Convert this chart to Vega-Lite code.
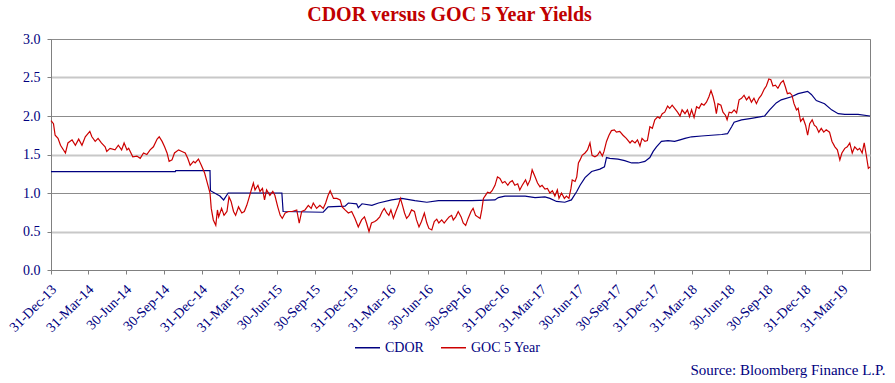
{
 "$schema": "https://vega.github.io/schema/vega-lite/v6.json",
 "width": 819,
 "height": 231,
 "autosize": {"type": "none"},
 "padding": {"left": 51, "top": 39, "right": 25, "bottom": 113},
 "background": "white",
 "config": {"view": {"stroke": "#808080", "strokeWidth": 1}, "font": "Liberation Serif"},
 "title": {"text": "CDOR versus GOC 5 Year Yields", "font": "Liberation Serif", "fontSize": 20, "fontWeight": "bold", "color": "#c00000", "anchor": "middle", "frame": "group", "offset": 7, "dx": -11},
 "datasets": {
  "cdor": [
   {"date": "2013-12-31", "value": 1.277},
   {"date": "2014-10-28", "value": 1.277},
   {"date": "2014-10-29", "value": 1.29},
   {"date": "2015-01-20", "value": 1.29},
   {"date": "2015-01-21", "value": 1.03},
   {"date": "2015-02-13", "value": 0.96},
   {"date": "2015-02-22", "value": 0.91},
   {"date": "2015-03-05", "value": 1.0},
   {"date": "2015-07-13", "value": 1.0},
   {"date": "2015-07-16", "value": 0.76},
   {"date": "2015-10-21", "value": 0.75},
   {"date": "2015-11-02", "value": 0.82},
   {"date": "2015-12-13", "value": 0.83},
   {"date": "2015-12-21", "value": 0.87},
   {"date": "2016-01-10", "value": 0.86},
   {"date": "2016-01-14", "value": 0.81},
   {"date": "2016-01-23", "value": 0.86},
   {"date": "2016-02-16", "value": 0.84},
   {"date": "2016-03-03", "value": 0.87},
   {"date": "2016-04-04", "value": 0.91},
   {"date": "2016-04-28", "value": 0.93},
   {"date": "2016-05-30", "value": 0.9},
   {"date": "2016-06-28", "value": 0.88},
   {"date": "2016-07-26", "value": 0.9},
   {"date": "2016-10-15", "value": 0.9},
   {"date": "2016-12-10", "value": 0.91},
   {"date": "2016-12-18", "value": 0.94},
   {"date": "2017-01-03", "value": 0.96},
   {"date": "2017-02-21", "value": 0.96},
   {"date": "2017-03-17", "value": 0.94},
   {"date": "2017-04-10", "value": 0.95},
   {"date": "2017-04-22", "value": 0.93},
   {"date": "2017-05-08", "value": 0.89},
   {"date": "2017-05-28", "value": 0.88},
   {"date": "2017-06-13", "value": 0.91},
   {"date": "2017-06-26", "value": 1.02},
   {"date": "2017-07-04", "value": 1.1},
   {"date": "2017-07-16", "value": 1.2},
   {"date": "2017-08-01", "value": 1.28},
   {"date": "2017-08-21", "value": 1.31},
   {"date": "2017-09-01", "value": 1.34},
   {"date": "2017-09-06", "value": 1.46},
   {"date": "2017-09-14", "value": 1.45},
   {"date": "2017-10-04", "value": 1.44},
   {"date": "2017-10-20", "value": 1.42},
   {"date": "2017-11-06", "value": 1.39},
   {"date": "2017-11-22", "value": 1.39},
   {"date": "2017-12-08", "value": 1.41},
   {"date": "2017-12-20", "value": 1.46},
   {"date": "2017-12-28", "value": 1.54},
   {"date": "2018-01-05", "value": 1.6},
   {"date": "2018-01-17", "value": 1.67},
   {"date": "2018-02-02", "value": 1.68},
   {"date": "2018-02-18", "value": 1.67},
   {"date": "2018-03-03", "value": 1.69},
   {"date": "2018-03-15", "value": 1.71},
   {"date": "2018-03-31", "value": 1.73},
   {"date": "2018-04-24", "value": 1.74},
   {"date": "2018-05-18", "value": 1.75},
   {"date": "2018-06-12", "value": 1.76},
   {"date": "2018-06-26", "value": 1.77},
   {"date": "2018-07-06", "value": 1.86},
   {"date": "2018-07-12", "value": 1.92},
   {"date": "2018-07-30", "value": 1.95},
   {"date": "2018-08-23", "value": 1.97},
   {"date": "2018-09-24", "value": 2.0},
   {"date": "2018-10-06", "value": 2.08},
   {"date": "2018-10-22", "value": 2.17},
   {"date": "2018-11-03", "value": 2.21},
   {"date": "2018-11-28", "value": 2.25},
   {"date": "2018-12-14", "value": 2.29},
   {"date": "2019-01-06", "value": 2.32},
   {"date": "2019-01-15", "value": 2.28},
   {"date": "2019-01-27", "value": 2.2},
   {"date": "2019-02-16", "value": 2.16},
   {"date": "2019-03-05", "value": 2.08},
   {"date": "2019-03-21", "value": 2.03},
   {"date": "2019-04-06", "value": 2.02},
   {"date": "2019-05-08", "value": 2.02},
   {"date": "2019-06-06", "value": 2.0}
  ],
  "goc": [
   {"date": "2013-12-31", "value": 1.94},
   {"date": "2014-01-06", "value": 1.9},
   {"date": "2014-01-10", "value": 1.75},
   {"date": "2014-01-17", "value": 1.71},
   {"date": "2014-01-23", "value": 1.62},
   {"date": "2014-02-04", "value": 1.52},
   {"date": "2014-02-10", "value": 1.65},
   {"date": "2014-02-20", "value": 1.69},
   {"date": "2014-02-28", "value": 1.62},
   {"date": "2014-03-08", "value": 1.7},
   {"date": "2014-03-16", "value": 1.62},
   {"date": "2014-03-24", "value": 1.73},
   {"date": "2014-04-04", "value": 1.8},
   {"date": "2014-04-09", "value": 1.73},
   {"date": "2014-04-17", "value": 1.67},
   {"date": "2014-04-24", "value": 1.71},
   {"date": "2014-05-02", "value": 1.65},
   {"date": "2014-05-11", "value": 1.6},
   {"date": "2014-05-15", "value": 1.54},
   {"date": "2014-05-23", "value": 1.58},
   {"date": "2014-06-04", "value": 1.56},
   {"date": "2014-06-12", "value": 1.62},
   {"date": "2014-06-20", "value": 1.56},
   {"date": "2014-06-26", "value": 1.65},
   {"date": "2014-07-03", "value": 1.56},
   {"date": "2014-07-07", "value": 1.58},
   {"date": "2014-07-17", "value": 1.47},
   {"date": "2014-07-27", "value": 1.48},
   {"date": "2014-08-04", "value": 1.45},
   {"date": "2014-08-12", "value": 1.52},
   {"date": "2014-08-20", "value": 1.5},
   {"date": "2014-08-28", "value": 1.56},
   {"date": "2014-09-05", "value": 1.6},
   {"date": "2014-09-14", "value": 1.7},
   {"date": "2014-09-19", "value": 1.73},
   {"date": "2014-09-26", "value": 1.67},
   {"date": "2014-10-02", "value": 1.6},
   {"date": "2014-10-08", "value": 1.52},
   {"date": "2014-10-13", "value": 1.41},
   {"date": "2014-10-20", "value": 1.43},
   {"date": "2014-10-26", "value": 1.52},
   {"date": "2014-11-05", "value": 1.56},
   {"date": "2014-11-13", "value": 1.54},
   {"date": "2014-11-21", "value": 1.52},
   {"date": "2014-11-27", "value": 1.45},
   {"date": "2014-12-03", "value": 1.36},
   {"date": "2014-12-11", "value": 1.41},
   {"date": "2014-12-15", "value": 1.39},
   {"date": "2014-12-23", "value": 1.44},
   {"date": "2014-12-30", "value": 1.36},
   {"date": "2015-01-07", "value": 1.26},
   {"date": "2015-01-16", "value": 1.08},
   {"date": "2015-01-20", "value": 1.0},
   {"date": "2015-01-23", "value": 0.8},
   {"date": "2015-01-28", "value": 0.65},
   {"date": "2015-02-03", "value": 0.58},
   {"date": "2015-02-07", "value": 0.78},
   {"date": "2015-02-10", "value": 0.69},
   {"date": "2015-02-17", "value": 0.8},
   {"date": "2015-02-23", "value": 0.71},
   {"date": "2015-03-02", "value": 0.76},
   {"date": "2015-03-07", "value": 0.95},
   {"date": "2015-03-12", "value": 0.89},
   {"date": "2015-03-18", "value": 0.76},
   {"date": "2015-03-23", "value": 0.71},
   {"date": "2015-03-30", "value": 0.82},
   {"date": "2015-04-07", "value": 0.74},
   {"date": "2015-04-13", "value": 0.76},
   {"date": "2015-04-19", "value": 0.84},
   {"date": "2015-04-23", "value": 0.91},
   {"date": "2015-04-30", "value": 1.04},
   {"date": "2015-05-05", "value": 1.13},
   {"date": "2015-05-09", "value": 1.04},
   {"date": "2015-05-16", "value": 1.1},
   {"date": "2015-05-21", "value": 1.02},
   {"date": "2015-05-27", "value": 1.06},
   {"date": "2015-06-01", "value": 0.91},
   {"date": "2015-06-06", "value": 1.04},
   {"date": "2015-06-14", "value": 0.97},
   {"date": "2015-06-21", "value": 1.02},
   {"date": "2015-06-26", "value": 0.97},
   {"date": "2015-07-03", "value": 0.82},
   {"date": "2015-07-09", "value": 0.71},
   {"date": "2015-07-14", "value": 0.67},
   {"date": "2015-07-21", "value": 0.74},
   {"date": "2015-07-29", "value": 0.76},
   {"date": "2015-08-07", "value": 0.76},
   {"date": "2015-08-18", "value": 0.78},
   {"date": "2015-08-24", "value": 0.61},
   {"date": "2015-08-30", "value": 0.76},
   {"date": "2015-09-07", "value": 0.78},
   {"date": "2015-09-15", "value": 0.84},
   {"date": "2015-09-22", "value": 0.8},
   {"date": "2015-09-27", "value": 0.87},
   {"date": "2015-10-05", "value": 0.8},
   {"date": "2015-10-13", "value": 0.84},
   {"date": "2015-10-21", "value": 0.8},
   {"date": "2015-10-27", "value": 0.87},
   {"date": "2015-11-02", "value": 0.97},
   {"date": "2015-11-07", "value": 1.03},
   {"date": "2015-11-15", "value": 0.93},
   {"date": "2015-11-23", "value": 0.93},
   {"date": "2015-12-01", "value": 0.91},
   {"date": "2015-12-06", "value": 0.82},
   {"date": "2015-12-13", "value": 0.78},
   {"date": "2015-12-21", "value": 0.74},
   {"date": "2015-12-29", "value": 0.76},
   {"date": "2016-01-06", "value": 0.67},
   {"date": "2016-01-14", "value": 0.56},
   {"date": "2016-01-22", "value": 0.65},
   {"date": "2016-01-29", "value": 0.69},
   {"date": "2016-02-03", "value": 0.61},
   {"date": "2016-02-09", "value": 0.5},
   {"date": "2016-02-15", "value": 0.61},
   {"date": "2016-02-23", "value": 0.63},
   {"date": "2016-02-28", "value": 0.65},
   {"date": "2016-03-06", "value": 0.69},
   {"date": "2016-03-12", "value": 0.76},
   {"date": "2016-03-17", "value": 0.8},
   {"date": "2016-03-23", "value": 0.74},
   {"date": "2016-03-28", "value": 0.71},
   {"date": "2016-04-02", "value": 0.78},
   {"date": "2016-04-08", "value": 0.67},
   {"date": "2016-04-14", "value": 0.76},
   {"date": "2016-04-20", "value": 0.84},
   {"date": "2016-04-25", "value": 0.93},
   {"date": "2016-04-30", "value": 0.84},
   {"date": "2016-05-05", "value": 0.74},
   {"date": "2016-05-10", "value": 0.67},
   {"date": "2016-05-16", "value": 0.71},
   {"date": "2016-05-22", "value": 0.78},
   {"date": "2016-05-29", "value": 0.76},
   {"date": "2016-06-03", "value": 0.65},
   {"date": "2016-06-09", "value": 0.56},
   {"date": "2016-06-15", "value": 0.63},
   {"date": "2016-06-22", "value": 0.74},
   {"date": "2016-06-28", "value": 0.61},
   {"date": "2016-07-03", "value": 0.54},
   {"date": "2016-07-10", "value": 0.52},
   {"date": "2016-07-16", "value": 0.63},
   {"date": "2016-07-22", "value": 0.66},
   {"date": "2016-07-27", "value": 0.61},
   {"date": "2016-08-03", "value": 0.65},
   {"date": "2016-08-09", "value": 0.61},
   {"date": "2016-08-15", "value": 0.65},
   {"date": "2016-08-21", "value": 0.69},
   {"date": "2016-08-27", "value": 0.71},
   {"date": "2016-08-31", "value": 0.65},
   {"date": "2016-09-06", "value": 0.69},
   {"date": "2016-09-12", "value": 0.76},
   {"date": "2016-09-19", "value": 0.69},
   {"date": "2016-09-24", "value": 0.61},
   {"date": "2016-09-30", "value": 0.58},
   {"date": "2016-10-06", "value": 0.67},
   {"date": "2016-10-13", "value": 0.76},
   {"date": "2016-10-18", "value": 0.8},
   {"date": "2016-10-24", "value": 0.71},
   {"date": "2016-10-29", "value": 0.69},
   {"date": "2016-11-04", "value": 0.67},
   {"date": "2016-11-08", "value": 0.78},
   {"date": "2016-11-12", "value": 0.93},
   {"date": "2016-11-17", "value": 0.97},
   {"date": "2016-11-22", "value": 1.01},
   {"date": "2016-11-28", "value": 1.0},
   {"date": "2016-12-03", "value": 1.03},
   {"date": "2016-12-10", "value": 1.1},
   {"date": "2016-12-16", "value": 1.21},
   {"date": "2016-12-22", "value": 1.19},
   {"date": "2016-12-28", "value": 1.13},
   {"date": "2017-01-03", "value": 1.15},
   {"date": "2017-01-10", "value": 1.1},
   {"date": "2017-01-15", "value": 1.14},
   {"date": "2017-01-21", "value": 1.16},
   {"date": "2017-01-27", "value": 1.1},
   {"date": "2017-02-03", "value": 1.12},
   {"date": "2017-02-08", "value": 1.04},
   {"date": "2017-02-14", "value": 1.1},
   {"date": "2017-02-22", "value": 1.17},
   {"date": "2017-02-27", "value": 1.1},
   {"date": "2017-03-05", "value": 1.17},
   {"date": "2017-03-10", "value": 1.3},
   {"date": "2017-03-17", "value": 1.21},
   {"date": "2017-03-23", "value": 1.13},
   {"date": "2017-03-29", "value": 1.08},
   {"date": "2017-04-03", "value": 1.1},
   {"date": "2017-04-10", "value": 1.05},
   {"date": "2017-04-16", "value": 1.06},
   {"date": "2017-04-22", "value": 1.0},
   {"date": "2017-04-28", "value": 1.03},
   {"date": "2017-05-04", "value": 0.96},
   {"date": "2017-05-10", "value": 1.04},
   {"date": "2017-05-14", "value": 0.93},
   {"date": "2017-05-20", "value": 1.0},
   {"date": "2017-05-27", "value": 0.93},
   {"date": "2017-06-01", "value": 0.96},
   {"date": "2017-06-07", "value": 0.93},
   {"date": "2017-06-12", "value": 1.06},
   {"date": "2017-06-15", "value": 1.17},
   {"date": "2017-06-22", "value": 1.15},
   {"date": "2017-06-26", "value": 1.21},
   {"date": "2017-06-30", "value": 1.39},
   {"date": "2017-07-04", "value": 1.43},
   {"date": "2017-07-09", "value": 1.49},
   {"date": "2017-07-16", "value": 1.52},
   {"date": "2017-07-22", "value": 1.56},
   {"date": "2017-07-28", "value": 1.65},
   {"date": "2017-08-02", "value": 1.49},
   {"date": "2017-08-09", "value": 1.47},
   {"date": "2017-08-15", "value": 1.49},
   {"date": "2017-08-21", "value": 1.54},
   {"date": "2017-08-27", "value": 1.48},
   {"date": "2017-08-31", "value": 1.54},
   {"date": "2017-09-06", "value": 1.67},
   {"date": "2017-09-12", "value": 1.75},
   {"date": "2017-09-18", "value": 1.81},
   {"date": "2017-09-25", "value": 1.82},
   {"date": "2017-09-30", "value": 1.79},
   {"date": "2017-10-08", "value": 1.8},
   {"date": "2017-10-16", "value": 1.75},
   {"date": "2017-10-24", "value": 1.71},
   {"date": "2017-11-02", "value": 1.65},
   {"date": "2017-11-07", "value": 1.68},
   {"date": "2017-11-14", "value": 1.65},
   {"date": "2017-11-20", "value": 1.69},
   {"date": "2017-11-26", "value": 1.61},
   {"date": "2017-12-01", "value": 1.71},
   {"date": "2017-12-08", "value": 1.67},
   {"date": "2017-12-14", "value": 1.68},
   {"date": "2017-12-20", "value": 1.86},
   {"date": "2017-12-26", "value": 1.84},
   {"date": "2018-01-01", "value": 1.95},
   {"date": "2018-01-08", "value": 1.99},
   {"date": "2018-01-13", "value": 1.97},
   {"date": "2018-01-19", "value": 2.03},
   {"date": "2018-01-25", "value": 2.05},
   {"date": "2018-02-01", "value": 2.13},
   {"date": "2018-02-06", "value": 2.1},
   {"date": "2018-02-12", "value": 2.14},
   {"date": "2018-02-18", "value": 2.1},
   {"date": "2018-02-25", "value": 2.05},
   {"date": "2018-03-03", "value": 2.0},
   {"date": "2018-03-08", "value": 2.08},
   {"date": "2018-03-15", "value": 2.03},
   {"date": "2018-03-21", "value": 2.08},
   {"date": "2018-03-26", "value": 1.99},
   {"date": "2018-03-31", "value": 2.08},
   {"date": "2018-04-06", "value": 1.98},
   {"date": "2018-04-12", "value": 2.12},
   {"date": "2018-04-18", "value": 2.1},
   {"date": "2018-04-24", "value": 2.16},
   {"date": "2018-04-30", "value": 2.14},
   {"date": "2018-05-06", "value": 2.18},
   {"date": "2018-05-12", "value": 2.25},
   {"date": "2018-05-17", "value": 2.33},
   {"date": "2018-05-22", "value": 2.25},
   {"date": "2018-05-26", "value": 2.16},
   {"date": "2018-05-30", "value": 2.03},
   {"date": "2018-06-03", "value": 2.16},
   {"date": "2018-06-10", "value": 2.14},
   {"date": "2018-06-15", "value": 2.05},
   {"date": "2018-06-21", "value": 2.01},
   {"date": "2018-06-25", "value": 1.95},
   {"date": "2018-06-30", "value": 2.05},
   {"date": "2018-07-06", "value": 2.04},
   {"date": "2018-07-12", "value": 2.08},
   {"date": "2018-07-18", "value": 2.04},
   {"date": "2018-07-24", "value": 2.21},
   {"date": "2018-07-30", "value": 2.23},
   {"date": "2018-08-05", "value": 2.27},
   {"date": "2018-08-11", "value": 2.21},
   {"date": "2018-08-17", "value": 2.25},
   {"date": "2018-08-23", "value": 2.18},
   {"date": "2018-08-29", "value": 2.23},
   {"date": "2018-09-04", "value": 2.16},
   {"date": "2018-09-10", "value": 2.23},
   {"date": "2018-09-16", "value": 2.27},
   {"date": "2018-09-23", "value": 2.35},
   {"date": "2018-09-28", "value": 2.39},
   {"date": "2018-10-04", "value": 2.48},
   {"date": "2018-10-09", "value": 2.47},
   {"date": "2018-10-14", "value": 2.39},
   {"date": "2018-10-20", "value": 2.4},
   {"date": "2018-10-26", "value": 2.36},
   {"date": "2018-11-02", "value": 2.43},
   {"date": "2018-11-08", "value": 2.46},
   {"date": "2018-11-13", "value": 2.38},
   {"date": "2018-11-18", "value": 2.29},
   {"date": "2018-11-24", "value": 2.3},
   {"date": "2018-11-29", "value": 2.27},
   {"date": "2018-12-04", "value": 2.16},
   {"date": "2018-12-10", "value": 2.08},
   {"date": "2018-12-14", "value": 2.1},
   {"date": "2018-12-20", "value": 1.93},
   {"date": "2018-12-26", "value": 1.97},
   {"date": "2019-01-01", "value": 1.88},
   {"date": "2019-01-06", "value": 1.75},
   {"date": "2019-01-11", "value": 1.9},
   {"date": "2019-01-17", "value": 1.95},
   {"date": "2019-01-22", "value": 1.88},
   {"date": "2019-01-27", "value": 1.86},
   {"date": "2019-02-02", "value": 1.79},
   {"date": "2019-02-08", "value": 1.84},
   {"date": "2019-02-14", "value": 1.79},
   {"date": "2019-02-20", "value": 1.82},
   {"date": "2019-02-28", "value": 1.79},
   {"date": "2019-03-06", "value": 1.67},
   {"date": "2019-03-13", "value": 1.6},
   {"date": "2019-03-19", "value": 1.56},
   {"date": "2019-03-25", "value": 1.43},
   {"date": "2019-03-30", "value": 1.52},
   {"date": "2019-04-06", "value": 1.58},
   {"date": "2019-04-12", "value": 1.6},
   {"date": "2019-04-18", "value": 1.65},
   {"date": "2019-04-24", "value": 1.52},
   {"date": "2019-04-30", "value": 1.6},
   {"date": "2019-05-07", "value": 1.56},
   {"date": "2019-05-12", "value": 1.58},
   {"date": "2019-05-18", "value": 1.52},
   {"date": "2019-05-23", "value": 1.65},
   {"date": "2019-05-28", "value": 1.49},
   {"date": "2019-06-02", "value": 1.32},
   {"date": "2019-06-06", "value": 1.34}
  ]
 },
 "encoding": {
  "x": {
   "field": "date", "type": "temporal",
   "scale": {"type": "utc", "nice": false, "domain": [{"year": 2013, "month": 12, "date": 31, "utc": true}, {"year": 2019, "month": 6, "date": 6, "utc": true}]},
   "axis": {
    "values": [
     {"year": 2013, "month": 12, "date": 31, "utc": true},
     {"year": 2014, "month": 3, "date": 31, "utc": true},
     {"year": 2014, "month": 6, "date": 30, "utc": true},
     {"year": 2014, "month": 9, "date": 30, "utc": true},
     {"year": 2014, "month": 12, "date": 31, "utc": true},
     {"year": 2015, "month": 3, "date": 31, "utc": true},
     {"year": 2015, "month": 6, "date": 30, "utc": true},
     {"year": 2015, "month": 9, "date": 30, "utc": true},
     {"year": 2015, "month": 12, "date": 31, "utc": true},
     {"year": 2016, "month": 3, "date": 31, "utc": true},
     {"year": 2016, "month": 6, "date": 30, "utc": true},
     {"year": 2016, "month": 9, "date": 30, "utc": true},
     {"year": 2016, "month": 12, "date": 31, "utc": true},
     {"year": 2017, "month": 3, "date": 31, "utc": true},
     {"year": 2017, "month": 6, "date": 30, "utc": true},
     {"year": 2017, "month": 9, "date": 30, "utc": true},
     {"year": 2017, "month": 12, "date": 31, "utc": true},
     {"year": 2018, "month": 3, "date": 31, "utc": true},
     {"year": 2018, "month": 6, "date": 30, "utc": true},
     {"year": 2018, "month": 9, "date": 30, "utc": true},
     {"year": 2018, "month": 12, "date": 31, "utc": true},
     {"year": 2019, "month": 3, "date": 31, "utc": true}
    ],
    "labelExpr": "utcFormat(datum.value, '%d-%b-%y')",
    "labelAngle": -45, "labelAlign": "right", "labelBaseline": "middle",
    "labelFont": "Liberation Serif", "labelFontSize": 14, "labelColor": "#000080",
    "labelPadding": 13, "labelOffset": 3, "labelOverlap": false, "labelBound": false, "labelFlush": false,
    "tickSize": 4, "tickColor": "#808080", "domainColor": "#808080", "grid": false,
    "title": "Source: Bloomberg Finance L.P.", "titleFont": "Liberation Serif", "titleFontSize": 15,
    "titleFontWeight": "normal", "titleColor": "#000080", "titleX": 834, "titleY": 99,
    "titleAlign": "right", "titleBaseline": "middle", "titleAnchor": "end"
   }
  },
  "y": {
   "field": "value", "type": "quantitative",
   "scale": {"domain": [0, 3], "nice": false, "zero": true},
   "axis": {
    "values": [0, 0.5, 1, 1.5, 2, 2.5, 3], "format": ".1f",
    "labelFont": "Liberation Serif", "labelFontSize": 14, "labelColor": "#000080",
    "labelPadding": 7, "labelFlush": false, "tickSize": 4, "tickColor": "#808080",
    "domainColor": "#808080", "grid": true,
    "gridColor": {"condition": {"test": "datum.value % 1 === 0", "value": "#8c8c8c"}, "value": "#c8c8c8"},
    "gridWidth": {"condition": {"test": "datum.value % 1 === 0", "value": 1}, "value": 2},
    "title": null
   }
  }
 },
 "layer": [
  {
   "data": {"name": "cdor"},
   "mark": {"type": "line", "strokeWidth": 1.2, "interpolate": "linear"},
   "encoding": {
    "color": {
     "datum": "CDOR", "type": "nominal",
     "scale": {"domain": ["CDOR", "GOC 5 Year"], "range": ["#000080", "#cc0000"]},
     "legend": {"orient": "none", "legendX": 303, "legendY": 295, "direction": "horizontal", "title": null,
      "symbolType": "stroke", "symbolSize": 625, "symbolStrokeWidth": 1.5,
      "labelFont": "Liberation Serif", "labelFontSize": 14, "labelColor": "#000080",
      "labelOffset": 4, "columnPadding": 14}
    }
   }
  },
  {
   "data": {"name": "goc"},
   "mark": {"type": "line", "strokeWidth": 1.2, "interpolate": "linear"},
   "encoding": {
    "color": {"datum": "GOC 5 Year", "type": "nominal"}
   }
  }
 ]
}
